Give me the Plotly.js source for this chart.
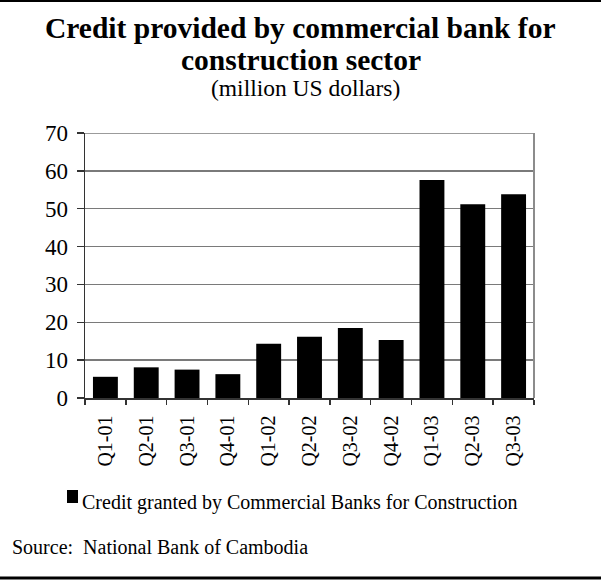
<!DOCTYPE html>
<html>
<head>
<meta charset="utf-8">
<script src="https://cdn.plot.ly/plotly-3.0.1.min.js"></script>
<style>
  html, body { margin: 0; padding: 0; background: #fff; }
  #chart { width: 601px; height: 580px; }
</style>
</head>
<body>
<div id="chart"></div>
<script>
// ---- Data ----
const quarters = ["Q1-01","Q2-01","Q3-01","Q4-01","Q1-02","Q2-02","Q3-02","Q4-02","Q1-03","Q2-03","Q3-03"];
const creditValues = [5.6, 8.1, 7.5, 6.3, 14.3, 16.2, 18.5, 15.3, 57.6, 51.2, 53.8];
const yTickValues = [0, 10, 20, 30, 40, 50, 60, 70];
const seriesName = "Credit granted by Commercial Banks for Construction";
const titleLine1 = "Credit provided by commercial bank for";
const titleLine2 = "construction sector";
const subtitle = "(million US dollars)";
const sourceText = "Source:&nbsp;&nbsp;National Bank of Cambodia";

// ---- Layout helpers (page px -> paper coords) ----
const W = 601, H = 580;
const M = { l: 85, r: 67, t: 133, b: 182 };
const PW = W - M.l - M.r, PH = H - M.t - M.b;
const px = x => (x - M.l) / PW;
const py = y => (H - M.b - y) / PH;

const FONT = '"Liberation Serif", "Times New Roman", Times, serif';

const trace = {
  type: 'bar',
  x: quarters,
  y: creditValues,
  name: seriesName,
  marker: { color: '#000000', line: { width: 0 } },
  showlegend: false,
  hoverinfo: 'x+y'
};

const layout = {
  width: W, height: H,
  margin: M,
  paper_bgcolor: '#ffffff',
  plot_bgcolor: '#ffffff',
  font: { family: FONT, color: '#000000', size: 20 },
  bargap: 0.39,
  xaxis: {
    type: 'category',
    tickangle: -90,
    tickfont: { family: FONT, size: 20, color: '#000' },
    ticks: 'outside', ticklen: 5, tickwidth: 1.5, tickcolor: '#333',
    tickson: 'boundaries',
    showline: true, linecolor: '#333', linewidth: 1.5,
    showgrid: false, zeroline: false,
    ticklabelstandoff: 8
  },
  yaxis: {
    range: [0, 70],
    tickvals: yTickValues,
    tickfont: { family: FONT, size: 23, color: '#000' },
    ticks: 'outside', ticklen: 7, tickwidth: 1.5, tickcolor: '#333',
    showline: true, linecolor: '#333', linewidth: 1.5,
    showgrid: true, gridcolor: '#7a7a7a', gridwidth: 1.5,
    zeroline: false,
    ticklabelstandoff: 4
  },
  shapes: [
    // top gridline at 70
    { type: 'line', xref: 'paper', yref: 'y', x0: 0, x1: 1, y0: 70, y1: 70,
      line: { color: '#7a7a7a', width: 1.5 } },
    // right border of plot area
    { type: 'line', xref: 'paper', yref: 'paper', x0: 1, x1: 1, y0: 0, y1: 1,
      line: { color: '#8c8c8c', width: 2 } },
    // frame top line
    { type: 'line', xref: 'paper', yref: 'paper', x0: px(0), x1: px(601), y0: py(1), y1: py(1),
      line: { color: '#000', width: 2 } },
    // frame bottom line
    { type: 'line', xref: 'paper', yref: 'paper', x0: px(0), x1: px(601), y0: py(578), y1: py(578),
      line: { color: '#000', width: 3 } },
    // legend swatch
    { type: 'rect', xref: 'paper', yref: 'paper', x0: px(67), x1: px(78), y0: py(503), y1: py(490),
      fillcolor: '#000', line: { width: 0 } }
  ],
  annotations: [
    { xref: 'paper', yref: 'paper', x: px(300.5), y: py(28), xanchor: 'center', yanchor: 'middle',
      text: '<b>' + titleLine1 + '</b>', showarrow: false, font: { family: FONT, size: 29.5, color: '#000' } },
    { xref: 'paper', yref: 'paper', x: px(300.5), y: py(60), xanchor: 'center', yanchor: 'middle',
      text: '<b>' + titleLine2 + '</b>', showarrow: false, font: { family: FONT, size: 29.5, color: '#000' } },
    { xref: 'paper', yref: 'paper', x: px(305), y: py(88), xanchor: 'center', yanchor: 'middle',
      text: subtitle, showarrow: false, font: { family: FONT, size: 23.5, color: '#000' } },
    { xref: 'paper', yref: 'paper', x: px(80), y: py(502), xanchor: 'left', yanchor: 'middle',
      text: seriesName, showarrow: false, font: { family: FONT, size: 20, color: '#000' } },
    { xref: 'paper', yref: 'paper', x: px(10), y: py(547), xanchor: 'left', yanchor: 'middle',
      text: sourceText, showarrow: false, font: { family: FONT, size: 20, color: '#000' } }
  ]
};

Plotly.newPlot('chart', [trace], layout, { displayModeBar: false, staticPlot: true });
</script>
</body>
</html>
